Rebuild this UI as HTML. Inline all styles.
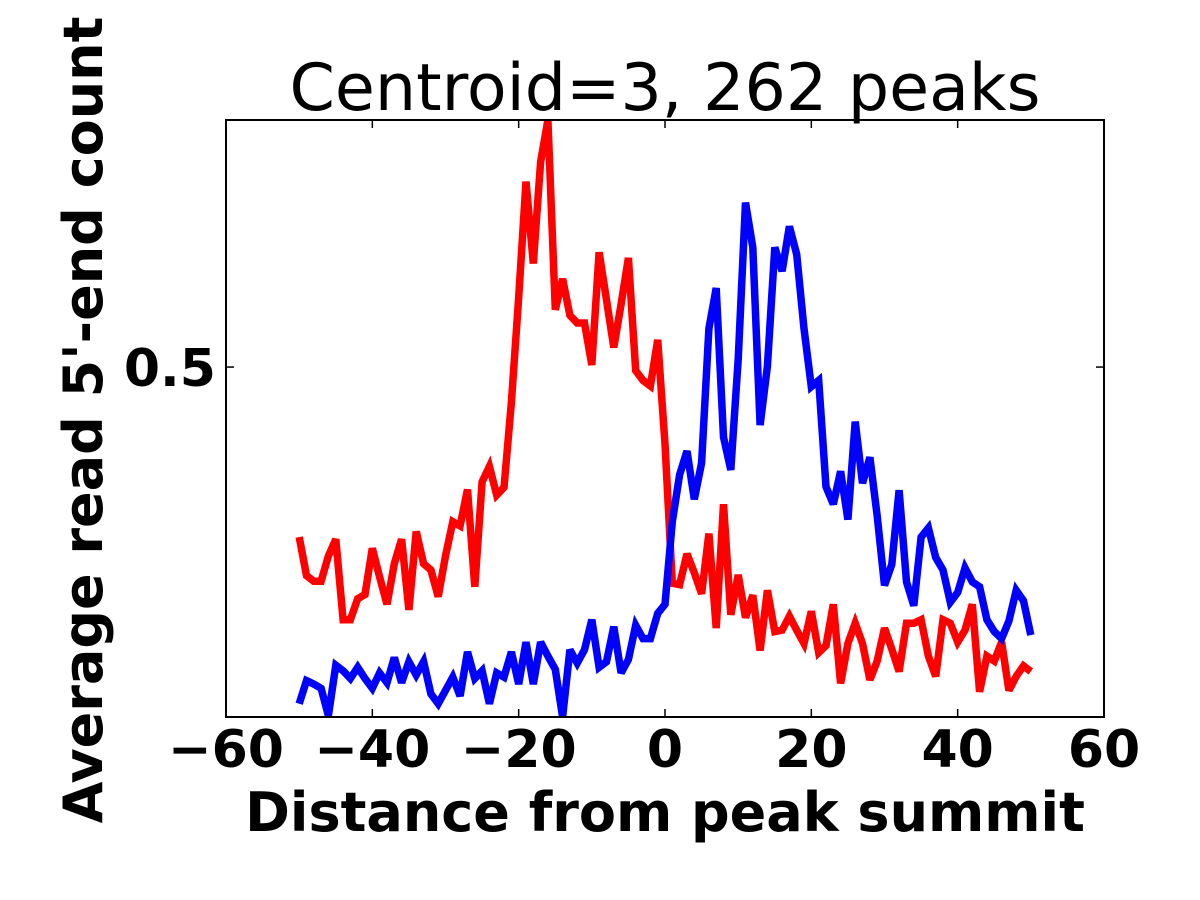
<!DOCTYPE html>
<html><head><meta charset="utf-8"><style>
body{margin:0;background:#fff;}
svg{display:block;font-family:"DejaVu Sans","Liberation Sans",sans-serif;}
</style></head><body>
<svg id="chart" width="1200" height="900">
<rect width="1200" height="900" fill="#fff"/>
<text x="665" y="110" font-size="65" text-anchor="middle">Centroid=3, 262 peaks</text>
<g id="lines"></g>
<rect x="226" y="120" width="878" height="597" fill="none" stroke="#000" stroke-width="2"/>
<g id="ticks"></g>
<text x="665" y="831" font-size="54" font-weight="bold" text-anchor="middle">Distance from peak summit</text>
<text transform="translate(102,420) rotate(-90)" font-size="54" font-weight="bold" text-anchor="middle">Average read 5'-end count</text>
</svg>
<script>
const positions = [];
for (let i = -50; i <= 50; i++) positions.push(i);
const redValues = [0.257,0.202,0.194,0.194,0.230,0.254,0.139,0.139,0.169,0.175,0.241,0.200,0.161,0.219,0.254,0.153,0.265,0.219,0.210,0.172,0.230,0.279,0.273,0.325,0.186,0.336,0.358,0.317,0.328,0.450,0.600,0.765,0.648,0.793,0.853,0.582,0.626,0.574,0.563,0.563,0.503,0.664,0.596,0.528,0.590,0.656,0.495,0.481,0.473,0.539,0.390,0.191,0.189,0.233,0.206,0.176,0.262,0.127,0.304,0.146,0.203,0.142,0.174,0.095,0.181,0.122,0.124,0.144,0.124,0.105,0.151,0.092,0.102,0.161,0.048,0.105,0.134,0.105,0.053,0.080,0.127,0.097,0.065,0.134,0.134,0.139,0.087,0.058,0.139,0.134,0.107,0.124,0.161,0.036,0.087,0.080,0.107,0.038,0.058,0.073,0.065];
const blueValues = [0.019,0.052,0.047,0.041,0.002,0.074,0.066,0.055,0.071,0.055,0.041,0.063,0.049,0.085,0.049,0.079,0.060,0.079,0.033,0.019,0.038,0.057,0.030,0.093,0.055,0.066,0.019,0.063,0.057,0.093,0.047,0.107,0.047,0.107,0.087,0.068,0.000,0.096,0.077,0.096,0.139,0.071,0.079,0.129,0.063,0.082,0.131,0.112,0.112,0.148,0.161,0.279,0.346,0.380,0.311,0.363,0.555,0.613,0.400,0.353,0.511,0.735,0.671,0.417,0.501,0.671,0.637,0.701,0.661,0.555,0.472,0.481,0.329,0.304,0.351,0.282,0.422,0.334,0.371,0.287,0.188,0.218,0.324,0.193,0.159,0.257,0.270,0.228,0.210,0.164,0.178,0.213,0.193,0.186,0.139,0.122,0.112,0.137,0.181,0.166,0.117];
const xTicks = [-60,-40,-20,0,20,40,60];
const xTickLabels = ["\u221260","\u221240","\u221220","0","20","40","60"];
const yTicks = [0.5];
const yTickLabels = ["0.5"];
const X0=226,X1=1104,Y0=717,Y1=120,XMIN=-60,XMAX=60,YMIN=0,YMAX=0.853;
const sx=v=>X0+(v-XMIN)/(XMAX-XMIN)*(X1-X0);
const sy=v=>Y0-(v-YMIN)/(YMAX-YMIN)*(Y0-Y1);
const NS="http://www.w3.org/2000/svg";
const lines=document.getElementById('lines');
function drawLine(vals,color,name){
  const p=document.createElementNS(NS,'polyline');
  p.setAttribute('points',vals.map((v,i)=>sx(positions[i]).toFixed(1)+','+sy(v).toFixed(1)).join(' '));
  p.setAttribute('fill','none');p.setAttribute('stroke',color);p.setAttribute('stroke-width','7.5');
  p.setAttribute('stroke-linejoin','miter');p.setAttribute('stroke-miterlimit','3');
  
  
  lines.appendChild(p);
}
drawLine(redValues,'#ff0000','red-series-line');
drawLine(blueValues,'#0000ff','blue-series-line');
const ticks=document.getElementById('ticks');
xTicks.forEach((t,i)=>{
  const x=sx(t);
  [[Y0,Y0-8],[Y1,Y1+8]].forEach(([a,b])=>{
    const l=document.createElementNS(NS,'line');
    l.setAttribute('x1',x);l.setAttribute('x2',x);l.setAttribute('y1',a);l.setAttribute('y2',b);
    l.setAttribute('stroke','#000');l.setAttribute('stroke-width','1.5');
    
    
    ticks.appendChild(l);
  });
  const tx=document.createElementNS(NS,'text');
  tx.setAttribute('x',x);tx.setAttribute('y',767);tx.setAttribute('font-size','52');
  tx.setAttribute('font-weight','bold');tx.setAttribute('text-anchor','middle');
  tx.textContent=xTickLabels[i];
  
  
  ticks.appendChild(tx);
});
yTicks.forEach((t,i)=>{
  const y=sy(t);
  [[X0,X0+8],[X1,X1-8]].forEach(([a,b])=>{
    const l=document.createElementNS(NS,'line');
    l.setAttribute('x1',a);l.setAttribute('x2',b);l.setAttribute('y1',y);l.setAttribute('y2',y);
    l.setAttribute('stroke','#000');l.setAttribute('stroke-width','1.5');
    
    
    ticks.appendChild(l);
  });
  const tx=document.createElementNS(NS,'text');
  tx.setAttribute('x',216);tx.setAttribute('y',y+19);tx.setAttribute('font-size','52');
  tx.setAttribute('font-weight','bold');tx.setAttribute('text-anchor','end');
  tx.textContent=yTickLabels[i];
  
  
  ticks.appendChild(tx);
});
</script>
</body></html>
